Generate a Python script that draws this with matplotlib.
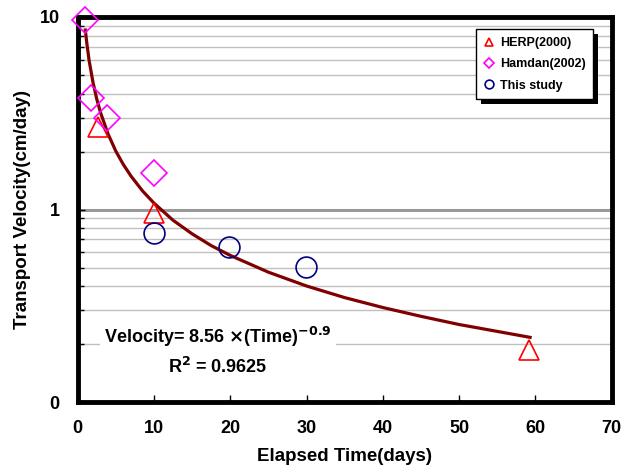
import matplotlib
matplotlib.use("Agg")
import matplotlib.pyplot as plt
from matplotlib.patches import Rectangle
from matplotlib.transforms import IdentityTransform
from matplotlib.ticker import FixedLocator, NullFormatter

plt.rcParams['font.family'] = ['Liberation Sans', 'DejaVu Sans']
plt.rcParams['font.weight'] = 'bold'

# measured data
herpT = [2.7, 10.0, 59.2]
herpV = [2.69, 0.965, 0.187]

hamdanT = [1.0, 1.8, 3.8, 10.0]
hamdanV = [9.6, 3.78, 2.99, 1.54]

studyT = [10.0, 19.9, 29.9]
studyV = [0.76, 0.64, 0.505]

# power trendline
fitT = [1.0, 1.2, 1.5, 2.0, 2.5, 3.0, 4.0, 5.0, 6.0, 7.0, 8.5, 10.0, 12.5, 15.0,
        17.5, 20.0, 25.0, 30.0, 35.0, 40.0, 45.0, 50.0, 55.0, 59.3]
fitV = [8.56, 7.3, 5.94, 4.59, 3.75, 3.18, 2.46, 2.01, 1.71, 1.49, 1.25, 1.08,
        0.88, 0.748, 0.65, 0.578, 0.473, 0.401, 0.349, 0.310, 0.279, 0.253,
        0.233, 0.217]

xTicks = [0, 10, 20, 30, 40, 50, 60, 70]
yTicks = [0.1, 1, 10]
yTickLabels = ['0', '1', '10']

fig = plt.figure(figsize=(6.29, 4.72), dpi=100)
ax = fig.add_axes([0.1235, 0.148, 0.849, 0.816])

# grid lines
minorY = [m * d for d in (0.1, 1) for m in range(2, 10)]
for yv in minorY:
    ax.axhline(yv, color='#c0c0c0', lw=1.0, zorder=1)
ax.axhline(1, color='#999999', lw=2.2, zorder=1)

ax.plot(fitT, fitV, color='#800000', lw=2.3, zorder=3)
ax.plot(herpT, herpV, ls='none', marker='^', ms=15, mfc='none', mec='#ff0000',
        mew=1.2, zorder=4, label='HERP(2000)', clip_on=False)
ax.plot(hamdanT, hamdanV, ls='none', marker='D', ms=13, mfc='none', mec='#ff00ff',
        mew=1.2, zorder=7, label='Hamdan(2002)', clip_on=False)
ax.plot(studyT, studyV, ls='none', marker='o', ms=15, mfc='none', mec='#000080',
        mew=1.2, zorder=4, label='This study', clip_on=False)

ax.set_yscale('log')
ax.set_xlim(0, 70)
ax.set_ylim(0.1, 10)
ax.set_xticks(xTicks)
ax.set_xticklabels([str(t) for t in xTicks])
ax.yaxis.set_major_locator(FixedLocator(yTicks))
ax.set_yticklabels(yTickLabels)
ax.yaxis.set_minor_locator(FixedLocator(minorY))
ax.yaxis.set_minor_formatter(NullFormatter())
ax.tick_params(axis='both', which='major', direction='in', length=5, width=1,
               labelsize=13)
ax.tick_params(axis='x', which='major', pad=13)
ax.tick_params(axis='y', which='major', pad=13)
ax.tick_params(axis='y', which='minor', direction='in', length=4, width=1)
for sp in ax.spines.values():
    sp.set_linewidth(3.5)
    sp.set_zorder(6)

ax.set_xlabel('Elapsed Time(days)', fontsize=13.5, fontweight='bold', labelpad=8)
ax.set_ylabel('Transport Velocity(cm/day)', fontsize=13.5, fontweight='bold', labelpad=6)

ax.text(0.262, 0.132, 'Velocity= 8.56 $\\mathbf{\\times}$(Time)$^{\\mathbf{-0.9}}$\n'
        'R$^{\\mathbf{2}}$ = 0.9625', transform=ax.transAxes, ha='center',
        va='center', fontsize=13, fontweight='bold', linespacing=1.5,
        bbox=dict(facecolor='white', edgecolor='none', pad=3), zorder=5)

leg = ax.legend(loc='upper right', bbox_to_anchor=(0.977, 0.984), fontsize=9,
                markerscale=0.42, handlelength=0.8, handletextpad=0.5,
                borderpad=0.6, labelspacing=0.75, fancybox=False, framealpha=1,
                edgecolor='black')
leg.get_frame().set_linewidth(1.0)
leg.set_zorder(9)

fig.canvas.draw()
bb = leg.get_window_extent()
shadow = Rectangle((bb.x0 + 5, bb.y0 - 5), bb.width, bb.height, transform=IdentityTransform(),
                   facecolor='black', edgecolor='none', zorder=8)
ax.add_artist(shadow)

fig.savefig('out.png', dpi=100)
